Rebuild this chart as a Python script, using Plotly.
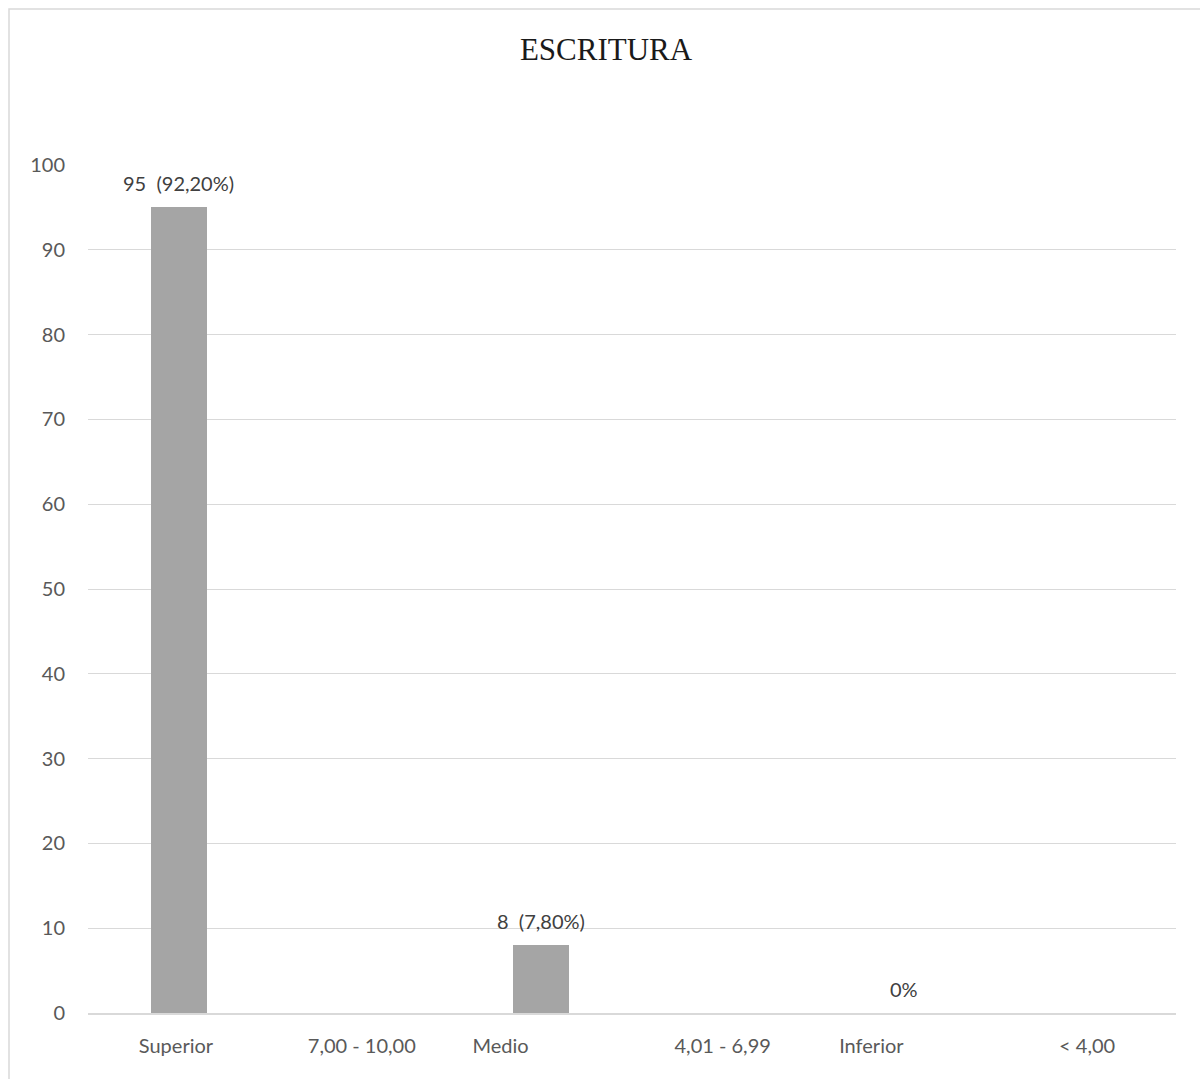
import plotly.graph_objects as go

# Writing-score bands and how many students fell in each
categories = ["Superior", "7,00 - 10,00", "Medio", "4,01 - 6,99", "Inferior", "< 4,00"]
counts = [95, 0, 8, 0, 0, 0]
bar_labels = ["95\u00a0 (92,20%)", "", "8\u00a0 (7,80%)", "", "0%", ""]
y_ticks = [0, 10, 20, 30, 40, 50, 60, 70, 80, 90, 100]

# Horizontal nudge of each category label (in category units)
label_nudge = [-0.015, 0.01, -0.225, 0.0, -0.18, 0.01]

W, H = 1200, 1079
ML, MR, MT, MB = 88, 24, 165, 66
plot_w = W - ML - MR
plot_h = H - MT - MB

TICK_FONT = dict(family="Lato, Calibri, sans-serif", size=20, color="#595959")
LABEL_FONT = dict(family="Lato, Calibri, sans-serif", size=20, color="#404040")

x_pos = list(range(len(categories)))

fig = go.Figure()
fig.add_trace(go.Bar(
    x=x_pos,
    y=counts,
    width=0.31,
    marker=dict(color="#A5A5A5", line=dict(width=0)),
    hoverinfo="skip",
))

# Value labels above each bar
for xi, v, t in zip(x_pos, counts, bar_labels):
    if t:
        fig.add_annotation(
            x=xi, y=v, xref="x", yref="y",
            text=t, showarrow=False,
            yanchor="middle", yshift=24,
            font=LABEL_FONT,
        )

# Outer chart frame
fig.add_shape(
    type="rect", xref="paper", yref="paper",
    x0=(9 - ML) / plot_w, x1=(W + 20 - ML) / plot_w,
    y0=-(MB + 20) / plot_h, y1=1 + (MT - 9) / plot_h,
    line=dict(color="#D9D9D9", width=1.5),
    fillcolor="rgba(0,0,0,0)",
    layer="below",
)

fig.update_layout(
    width=W, height=H,
    margin=dict(l=ML, r=MR, t=MT, b=MB),
    paper_bgcolor="white",
    plot_bgcolor="white",
    showlegend=False,
    title=dict(
        text="ESCRITURA",
        x=606 / W, xref="container", xanchor="center",
        y=1 - 49 / H, yref="container", yanchor="middle",
        font=dict(family="Liberation Serif, Times New Roman, serif", size=31, color="#1a1a1a"),
    ),
    xaxis=dict(
        range=[-0.5, 5.5],
        tickmode="array",
        tickvals=[p + n for p, n in zip(x_pos, label_nudge)],
        ticktext=categories,
        showgrid=False,
        zeroline=False,
        showline=True,
        linecolor="#D9D9D9",
        linewidth=1.5,
        ticks="",
        tickfont=TICK_FONT,
        ticklabelstandoff=14,
        fixedrange=True,
    ),
    yaxis=dict(
        range=[0, 100],
        tickmode="array",
        tickvals=y_ticks,
        ticktext=[str(v) for v in y_ticks],
        showgrid=True,
        gridcolor="#D9D9D9",
        gridwidth=1,
        zeroline=False,
        showline=False,
        ticks="",
        tickfont=TICK_FONT,
        ticklabelstandoff=22,
        fixedrange=True,
    ),
    bargap=0,
)

fig.write_html("out.html", config={"displayModeBar": False})
